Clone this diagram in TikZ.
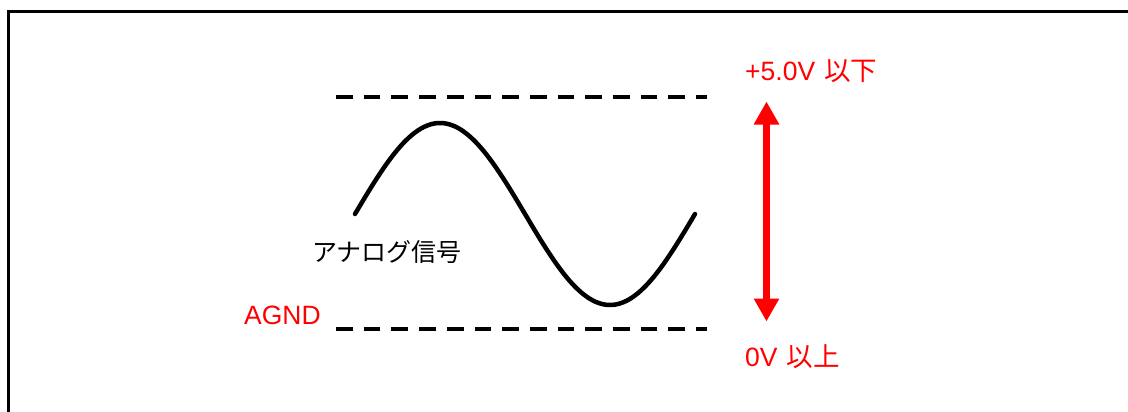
\documentclass[tikz,border=0pt]{standalone}
\usepackage{fontspec}
\setmainfont{Liberation Sans}
\newfontfamily\cjk{Noto Sans CJK JP}
\usetikzlibrary{arrows.meta}
\definecolor{pured}{RGB}{255,0,0}
\tikzset{
  frameline/.style={line width=3.2pt, black},
  levelline/.style={line width=4.5pt, black, dash pattern=on 16.7pt off 11pt},
  wave/.style={line width=4.5pt, black, line cap=round},
  rangearrow/.style={pured, line width=7pt, {Triangle[length=23pt,width=24pt]}-{Triangle[length=23pt,width=24pt]}},
  redlabel/.style={text=pured, inner sep=0pt, font=\fontsize{26.5}{30}\selectfont},
  blacklabel/.style={text=black, inner sep=0pt, font=\fontsize{25}{30}\selectfont\cjk}
}
\begin{document}
\begin{tikzpicture}[x=1pt, y=-1pt]
\useasboundingbox (0,0) rectangle (1128,412);
\begin{scope}
  \clip (0,0) rectangle (1128,412);
  \draw[frameline] (8.5,11.3) rectangle (1145,430);
\end{scope}
% level lines
\coordinate (topL) at (336,97);
\coordinate (topR) at (707,97);
\coordinate (botL) at (336,329);
\coordinate (botR) at (707,329);
\draw[levelline] (topL) -- (topR);
\draw[levelline] (botL) -- (botR);
% sine wave
\draw[wave] plot[domain=0:360, samples=120, smooth] ({355+(\x/360)*340}, {214-91*sin(\x)});
% range arrow
\coordinate (arrTop) at (766.5,101.5);
\coordinate (arrBot) at (766.5,321.5);
\draw[rangearrow] (arrTop) -- (arrBot);
% labels
\node[redlabel, anchor=base west] (maxlbl) at (745,81) {+5.0V\hspace{0.35em}{\cjk 以下}};
\node[redlabel, anchor=base west] (minlbl) at (745,366) {0V\hspace{0.35em}{\cjk 以上}};
\node[redlabel, anchor=base west] (agnd) at (244,324) {AGND};
\node[blacklabel, anchor=west] (siglbl) at (312,252.5) {アナログ信号};
\end{tikzpicture}
\end{document}
